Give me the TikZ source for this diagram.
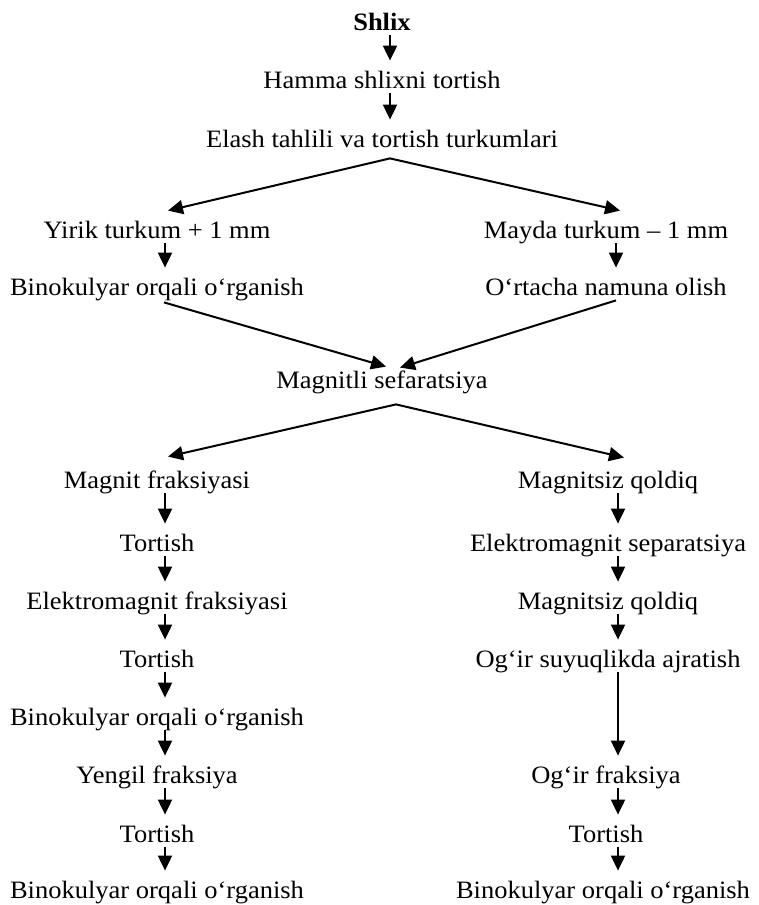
\documentclass[tikz,border=0pt]{standalone}
\usepackage{fontspec}
\setmainfont{Liberation Serif}[FakeStretch=1.06]
\usepackage{tikz}
\usetikzlibrary{arrows.meta,positioning}

\begin{document}
\begin{tikzpicture}[x=0.5pt,y=-0.5pt,
    every node/.style={anchor=base,inner xsep=0pt,inner ysep=2.5pt,
      text height=11pt,text depth=0pt,font=\fontsize{12.5pt}{15pt}\selectfont},
    arr/.style={line width=1pt,-{Triangle[length=7.5pt,width=7pt]}}]
        \useasboundingbox (0,0) rectangle (759,905);

        \node(shlix) at (382,30) {\textbf{Shlix}};
        \node(hamma) at (382,88) {Hamma shlixni tortish};
        \node(elash) at (382,147) {Elash tahlili va tortish turkumlari};
        \node(yirik) at (157,238) {Yirik turkum + 1 mm};
        \node(mayda) at (606,238) {Mayda turkum – 1 mm};
        \node(binokA) at (157,295) {Binokulyar orqali o‘rganish};
        \node(ortacha) at (606,295) {O‘rtacha namuna olish};
        \node(magnitli) at (382,388) {Magnitli sefaratsiya};
        \node(magnit) at (157,488) {Magnit fraksiyasi};
        \node(magnitsizA) at (608,488) {Magnitsiz qoldiq};
        \node(tortishA) at (157,551) {Tortish};
        \node(elsep) at (608,551) {Elektromagnit separatsiya};
        \node(elfrak) at (157,609) {Elektromagnit fraksiyasi};
        \node(magnitsizB) at (608,609) {Magnitsiz qoldiq};
        \node(tortishB) at (157,667) {Tortish};
        \node(ogirsuyuq) at (608,667) {Og‘ir suyuqlikda ajratish};
        \node(binokB) at (157,725) {Binokulyar orqali o‘rganish};
        \node(yengil) at (157,783) {Yengil fraksiya};
        \node(ogirfrak) at (606,783) {Og‘ir fraksiya};
        \node(tortishC) at (157,842) {Tortish};
        \node(tortishD) at (606,842) {Tortish};
        \node(binokC) at (157,898) {Binokulyar orqali o‘rganish};
        \node(binokD) at (603,898) {Binokulyar orqali o‘rganish};

        \begin{scope}[arr]
          % middle column
          \path ([xshift=4pt]shlix.south) edge ([xshift=4pt]hamma.north);
          \path ([xshift=4pt]hamma.south) edge ([xshift=4pt]elash.north);
          \path ([shift={(4pt,-3pt)}]elash.south)
            edge ([xshift=5.5pt]yirik.north)
            edge ([xshift=7pt]mayda.north);
          \path ([shift={(3.5pt,-1pt)}]binokA.south) edge ([shift={(2pt,-3pt)}]magnitli.north);
          \path ([xshift=5pt]ortacha.south) edge ([shift={(9pt,-3.5pt)}]magnitli.north);
          \path ([shift={(7pt,-5.5pt)}]magnitli.south)
            edge ([shift={(5.5pt,2pt)}]magnit.north)
            edge ([shift={(8pt,1.5pt)}]magnitsizA.north);
          % left column
          \path ([xshift=4pt]yirik.south) edge ([xshift=4pt]binokA.north);
          \path ([xshift=4pt]magnit.south) edge ([xshift=4pt]tortishA.north);
          \path ([xshift=4pt]tortishA.south) edge ([xshift=4pt]elfrak.north);
          \path ([xshift=4pt]elfrak.south) edge ([xshift=4pt]tortishB.north);
          \path ([xshift=4pt]tortishB.south) edge ([xshift=4pt]binokB.north);
          \path ([xshift=4pt]binokB.south) edge ([xshift=4pt]yengil.north);
          \path ([xshift=4pt]yengil.south) edge ([xshift=4pt]tortishC.north);
          \path ([xshift=4pt]tortishC.south) edge ([xshift=4pt]binokC.north);
          % right column
          \path ([xshift=5pt]mayda.south) edge ([xshift=5pt]ortacha.north);
          \path ([xshift=5pt]magnitsizA.south) edge ([xshift=5pt]elsep.north);
          \path ([xshift=5pt]elsep.south) edge ([xshift=5pt]magnitsizB.north);
          \path ([xshift=5pt]magnitsizB.south) edge ([xshift=5pt]ogirsuyuq.north);
          \path ([xshift=5pt]ogirsuyuq.south) edge ([xshift=6pt]ogirfrak.north);
          \path ([xshift=6pt]ogirfrak.south) edge ([xshift=6pt]tortishD.north);
          \path ([xshift=6pt]tortishD.south) edge ([xshift=7.5pt]binokD.north);
        \end{scope}
      \end{tikzpicture}
\end{document}
